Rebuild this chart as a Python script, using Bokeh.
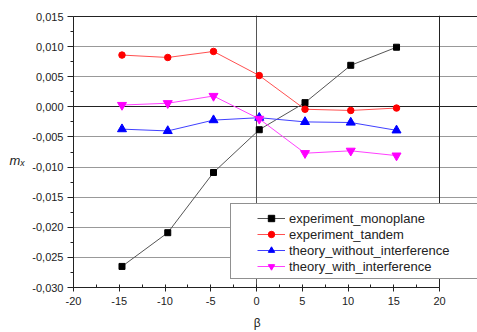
from bokeh.plotting import figure
from bokeh.models import (SingleIntervalTicker, CustomJSTickFormatter, Legend, Grid, FixedTicker,
                          LegendItem, Range1d)
from bokeh.embed import file_html
from bokeh.resources import INLINE

beta = [-14.7, -9.7, -4.7, 0.3, 5.3, 10.3, 15.3]
experiment_monoplane = [-0.0265, -0.0209, -0.0109, -0.0038, 0.0007, 0.0069, 0.0099]
experiment_tandem = [0.0086, 0.0082, 0.0092, 0.0052, -0.0004, -0.0006, -0.0002]
theory_without_interference = [-0.0037, -0.0040, -0.0022, -0.0018, -0.0025, -0.0026, -0.0039]
theory_with_interference = [0.0003, 0.0006, 0.0018, -0.0020, -0.0077, -0.0073, -0.0081]

series = [
    ("experiment_monoplane", experiment_monoplane, "#000000", "#555555", "square", 6),
    ("experiment_tandem", experiment_tandem, "#ff0000", "#ff5050", "circle", 6.5),
    ("theory_without_interference", theory_without_interference, "#0000ff", "#4040ff", "triangle", 9),
    ("theory_with_interference", theory_with_interference, "#ff00ff", "#ff40ff", "inverted_triangle", 9),
]

FONT = "Liberation Sans"
X0, X1 = -20, 20
Y0, Y1 = -0.030, 0.015

p = figure(width=477, height=332, output_backend="svg", toolbar_location=None,
           x_range=Range1d(X0, 24.15), y_range=Range1d(Y0, Y1 + 0.00017),
           min_border_left=73, min_border_right=0, min_border_top=15, min_border_bottom=45)
p.outline_line_color = None
p.background_fill_color = "white"
p.border_fill_color = "white"

p.xaxis.ticker = SingleIntervalTicker(interval=5, num_minor_ticks=2)
p.yaxis.ticker = SingleIntervalTicker(interval=0.005, num_minor_ticks=2)
p.yaxis.formatter = CustomJSTickFormatter(code="return tick.toFixed(3).replace('.', ',');")
p.xaxis.formatter = CustomJSTickFormatter(code="return Math.round(tick).toString();")
p.xaxis.bounds = (X0, X1)
p.yaxis.bounds = (Y0, Y1)

for ax in (p.xaxis[0], p.yaxis[0]):
    ax.axis_line_color = "#222222"
    ax.major_tick_line_color = "#222222"
    ax.minor_tick_line_color = "#222222"
    ax.major_label_text_font = FONT
    ax.major_label_text_font_size = "11px"
    ax.major_label_text_color = "#222222"

p.yaxis.major_tick_out = 6
p.yaxis.major_tick_in = 0
p.yaxis.minor_tick_out = 3
p.yaxis.minor_tick_in = 0
p.yaxis.major_label_standoff = 4
p.yaxis.axis_label = "\u00a0\nmₓ"
p.yaxis.axis_label_orientation = "horizontal"
p.yaxis.axis_label_text_font = FONT
p.yaxis.axis_label_text_font_size = "13px"
p.yaxis.axis_label_text_font_style = "italic"
p.yaxis.axis_label_text_color = "#222222"
p.yaxis.axis_label_standoff = 4

p.xaxis.major_tick_out = 4
p.xaxis.major_tick_in = 0
p.xaxis.minor_tick_out = 0
p.xaxis.minor_tick_in = 3
p.xaxis.major_label_standoff = 5
p.xaxis.axis_label = "β" + "\u00a0" * 11
p.xaxis.axis_label_text_font = FONT
p.xaxis.axis_label_text_font_size = "12px"
p.xaxis.axis_label_text_font_style = "normal"
p.xaxis.axis_label_text_color = "#222222"
p.xaxis.axis_label_standoff = 8

p.xgrid.grid_line_color = "#999999"
p.ygrid.grid_line_color = "#999999"
p.xgrid.bounds = (Y0, Y1)
p.ygrid.bounds = (X0, X1)

# zero lines and top/right frame lines
p.add_layout(Grid(dimension=1, ticker=FixedTicker(ticks=[0.0]), bounds=(X0, X1),
                  grid_line_color="#222222"))
p.add_layout(Grid(dimension=0, ticker=FixedTicker(ticks=[0.0]), bounds=(Y0, Y1),
                  grid_line_color="#555555"))
p.add_layout(Grid(dimension=1, ticker=FixedTicker(ticks=[Y1]), bounds=(X0, X1),
                  grid_line_color="#222222"))
p.add_layout(Grid(dimension=0, ticker=FixedTicker(ticks=[X1]), bounds=(Y0, Y1),
                  grid_line_color="#222222"))

items_real = []
items_dummy = []
for name, vals, mcol, lcol, marker, size in series:
    ln = p.line(beta, vals, line_color=lcol, line_width=1)
    sc = p.scatter(beta, vals, marker=marker, size=size, fill_color=mcol, line_color=mcol)
    items_real.append(LegendItem(label=name, renderers=[ln, sc]))
    d = p.line([], [], line_alpha=0)
    items_dummy.append(LegendItem(label=name, renderers=[d]))

legend_box = Legend(items=items_dummy, location=(157, 8), orientation="vertical",
                    padding=5, spacing=0, glyph_width=50, glyph_height=16, label_height=16,
                    label_standoff=4, label_width=200, margin=0,
                    label_text_font=FONT, label_text_font_size="13px", label_text_alpha=0,
                    border_line_color="#222222", border_line_width=1,
                    background_fill_color="white", background_fill_alpha=1)
legend_items = Legend(items=items_real, location=(184, 13), orientation="vertical",
                      padding=0, spacing=0, glyph_width=28, glyph_height=16, label_height=16,
                      label_standoff=4, margin=0,
                      label_text_font=FONT, label_text_font_size="13px", label_text_color="#222222",
                      border_line_alpha=0, background_fill_alpha=0)
p.add_layout(legend_box, "center")
p.add_layout(legend_items, "center")

open("out.html", "w").write(file_html(p, INLINE))
